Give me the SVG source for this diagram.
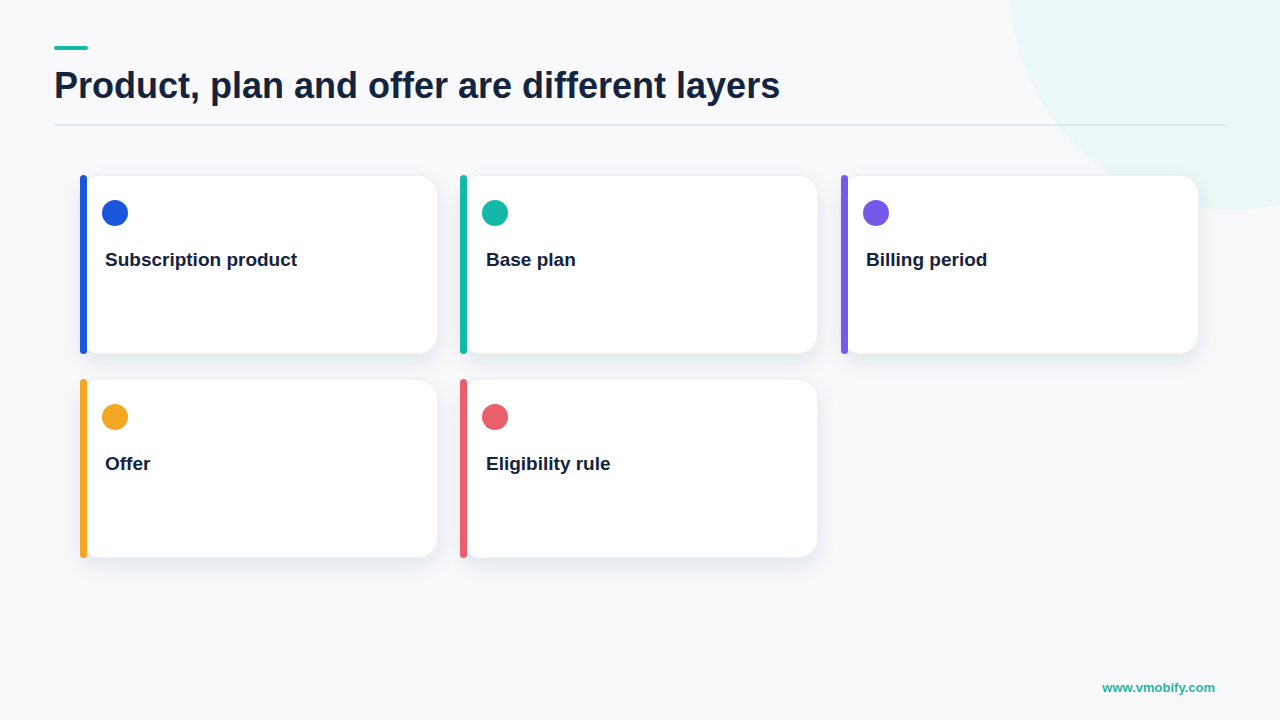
<svg xmlns="http://www.w3.org/2000/svg" width="1280" height="720" viewBox="0 0 1280 720">
<defs>
<style>
.card{fill:#ffffff;stroke:#e4e9f1;stroke-width:1}
.lbl{font-family:"Liberation Sans",Arial,sans-serif;font-weight:bold;font-size:19px;fill:#14233f}
</style>
<filter id="sh" x="-20%" y="-20%" width="140%" height="150%">
<feDropShadow dx="0" dy="8" stdDeviation="9" flood-color="#1e2f55" flood-opacity="0.09"/>
</filter>
</defs>
<rect width="1280" height="720" fill="#f7f9fb"/>
<circle cx="1232" cy="-12" r="222" fill="#ebf8f7"/>
<rect x="54" y="46" width="34" height="4" rx="2" fill="#17b6a3"/>
<text x="54" y="98" font-family="Liberation Sans,Arial,sans-serif" font-weight="bold" font-size="36" fill="#14233f">Product, plan and offer are different layers</text>
<rect x="54" y="124" width="1172" height="2" fill="#dbe7ef"/>
<g id="n1">
<rect class="card" x="80" y="175" width="358" height="179" rx="20" filter="url(#sh)"/>
<rect x="80" y="175" width="7" height="179" rx="3.5" fill="#1a56db"/>
<circle cx="115" cy="213" r="13" fill="#1a56db"/>
<text class="lbl" x="105" y="266">Subscription product</text>
</g>
<g id="n2">
<rect class="card" x="460" y="175" width="358" height="179" rx="20" filter="url(#sh)"/>
<rect x="460" y="175" width="7" height="179" rx="3.5" fill="#14b8a6"/>
<circle cx="495" cy="213" r="13" fill="#14b8a6"/>
<text class="lbl" x="486" y="266">Base plan</text>
</g>
<g id="n3">
<rect class="card" x="841" y="175" width="358" height="179" rx="20" filter="url(#sh)"/>
<rect x="841" y="175" width="7" height="179" rx="3.5" fill="#7559e8"/>
<circle cx="876" cy="213" r="13" fill="#7559e8"/>
<text class="lbl" x="866" y="266">Billing period</text>
</g>
<g id="n4">
<rect class="card" x="80" y="379" width="358" height="179" rx="20" filter="url(#sh)"/>
<rect x="80" y="379" width="7" height="179" rx="3.5" fill="#f5a623"/>
<circle cx="115" cy="417" r="13" fill="#f5a623"/>
<text class="lbl" x="105" y="470">Offer</text>
</g>
<g id="n5">
<rect class="card" x="460" y="379" width="358" height="179" rx="20" filter="url(#sh)"/>
<rect x="460" y="379" width="7" height="179" rx="3.5" fill="#e9606b"/>
<circle cx="495" cy="417" r="13" fill="#e9606b"/>
<text class="lbl" x="486" y="470">Eligibility rule</text>
</g>
<g id="connectors"></g>
<text x="1215" y="692" text-anchor="end" font-family="Liberation Sans,Arial,sans-serif" font-weight="bold" font-size="13" fill="#2bb5a0">www.vmobify.com</text>
</svg>
